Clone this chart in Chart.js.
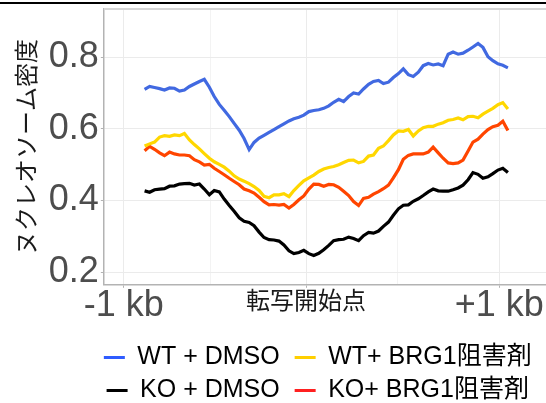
<!DOCTYPE html>
<html>
<head>
<meta charset="utf-8">
<script src="https://cdn.jsdelivr.net/npm/chart.js@4/dist/chart.umd.min.js"></script>
<style>
    html, body { margin: 0; padding: 0; background: #fff; overflow: hidden; }
    #wrap { position: relative; width: 546px; height: 403px; }
</style>
</head>
<body>
<div id="wrap"><canvas id="densityChart"></canvas></div>
<script>
// distance from TSS (bp) of each bin
const positions = [
    -889, -862, -836, -809, -783, -756, -730, -703, -677, -650,
    -624, -597, -571, -544, -518, -491, -465, -438, -412, -385,
    -359, -332, -306, -279, -253, -226, -200, -173, -147, -120,
    -94, -67, -41, -14, 12, 39, 65, 92, 118, 145,
    171, 198, 224, 251, 277, 304, 330, 357, 383, 410,
    436, 463, 489, 516, 542, 569, 595, 622, 648, 675,
    701, 728, 754, 781, 807, 834, 860, 887, 913, 940,
    966, 993, 1019, 1046
];

const wtDmso = [
    .710, .718, .715, .712, .708, .714, .713, .705, .708, .718,
    .725, .732, .738, .716, .690, .668, .652, .634, .615, .596,
    .573, .542, .562, .574, .582, .590, .598, .606, .614, .622,
    .628, .632, .638, .648, .651, .653, .657, .664, .674, .682,
    .676, .690, .700, .697, .711, .724, .732, .735, .726, .730,
    .743, .754, .767, .751, .746, .758, .776, .782, .778, .781,
    .776, .808, .814, .808, .811, .819, .828, .838, .827, .801,
    .790, .781, .777, .770
];

const wtInhib = [
    .552, .558, .563, .577, .581, .579, .583, .581, .587, .569,
    .556, .544, .531, .518, .508, .501, .493, .482, .469, .460,
    .454, .447, .439, .428, .412, .408, .416, .416, .419, .411,
    .428, .442, .455, .463, .471, .481, .488, .492, .495, .500,
    .506, .512, .513, .505, .509, .524, .527, .546, .552, .567,
    .583, .594, .593, .598, .580, .594, .603, .607, .607, .613,
    .617, .624, .626, .630, .625, .634, .635, .631, .641, .649,
    .657, .667, .673, .655
];

const koDmso = [
    .427, .423, .430, .432, .433, .440, .441, .446, .447, .448,
    .443, .446, .432, .416, .428, .424, .404, .386, .370, .352,
    .342, .339, .330, .312, .297, .291, .290, .287, .276, .260,
    .252, .255, .261, .252, .247, .253, .263, .275, .288, .291,
    .292, .298, .294, .288, .302, .311, .309, .315, .328, .340,
    .359, .377, .387, .388, .398, .405, .414, .424, .432, .427,
    .426, .426, .430, .435, .443, .458, .478, .473, .462, .466,
    .475, .485, .490, .478
];

const koInhib = [
    .539, .551, .543, .533, .525, .535, .530, .527, .527, .525,
    .514, .508, .499, .501, .490, .481, .472, .462, .453, .444,
    .432, .427, .421, .409, .397, .388, .389, .387, .389, .379,
    .389, .402, .413, .432, .446, .445, .440, .445, .444, .437,
    .426, .414, .397, .386, .406, .409, .418, .425, .433, .443,
    .463, .486, .515, .526, .530, .530, .530, .535, .549, .533,
    .518, .505, .503, .505, .513, .538, .563, .571, .585, .598,
    .606, .610, .621, .595
];

// axis breaks (major ones carry labels)
const xTicks = [-1000, -538, -29, 459, 1000];
const xTickLabels = { '-1000': '-1 kb', '-29': '転写開始点', '1000': '+1 kb' };
const yTicks = [0.2, 0.3, 0.4, 0.5, 0.6, 0.7, 0.8, 0.9];

const seriesNames = ['WT + DMSO', 'WT+ BRG1阻害剤', 'KO + DMSO', 'KO+ BRG1阻害剤'];

function toPoints(values) {
    return values.map((v, i) => ({ x: positions[i], y: v }));
}

function isMajorY(v) {
    return Math.round(v * 10) % 2 === 0;
}

// panel top border, the black rule at the very top, legend rows start at the panel's left edge
const framePlugin = {
    id: 'frame',
    afterLayout(chart) {
        const lg = chart.legend;
        if (lg && lg.lineWidths) {
            const pad = lg.options.labels.padding;
            const start = (lg.left + pad + lg.right - lg.lineWidths[0]) / 2;
            const d = chart.chartArea.left - start;
            lg.left += d;
            lg.right += d;
        }
    },
    afterDraw(chart) {
        const { ctx, chartArea: a, width } = chart;
        ctx.save();
        ctx.strokeStyle = '#d6d6d6';
        ctx.lineWidth = 2;
        ctx.beginPath();
        ctx.moveTo(a.left, a.top);
        ctx.lineTo(a.right, a.top);
        ctx.stroke();
        ctx.fillStyle = '#000';
        ctx.fillRect(0, 2, width, 2);
        ctx.restore();
    }
};

Chart.defaults.font.family = "'Liberation Sans', Arial, 'Noto Sans CJK JP', sans-serif";

const lineStyle = { borderWidth: 3.2, pointRadius: 0, tension: 0, fill: false };

new Chart(document.getElementById('densityChart'), {
    type: 'line',
    data: {
        datasets: [
            { label: seriesNames[0], data: toPoints(wtDmso), borderColor: '#4169e1', legendColor: '#2f5cff', ...lineStyle },
            { label: seriesNames[1], data: toPoints(wtInhib), borderColor: '#ffd700', legendColor: '#ffcf00', ...lineStyle },
            { label: seriesNames[2], data: toPoints(koDmso), borderColor: '#000000', legendColor: '#000000', ...lineStyle },
            { label: seriesNames[3], data: toPoints(koInhib), borderColor: '#ff4500', legendColor: '#ff2020', ...lineStyle }
        ]
    },
    options: {
        responsive: true,
        maintainAspectRatio: false,
        animation: false,
        layout: { padding: { top: 9, left: 10, right: 0, bottom: 0 } },
        plugins: {
            tooltip: { enabled: false },
            legend: {
                position: 'bottom',
                fullSize: true,
                maxHeight: 66,
                labels: {
                    font: { size: 25 },
                    color: '#000',
                    boxWidth: 21,
                    boxHeight: 3,
                    padding: 8,
                    generateLabels: function (chart) {
                        return chart.data.datasets.map((ds, i) => ({
                            // a trailing space widens the first column a little
                            text: i % 2 === 0 ? ds.label + ' ' : ds.label,
                            fillStyle: ds.legendColor,
                            strokeStyle: ds.legendColor,
                            lineWidth: 0,
                            hidden: false,
                            datasetIndex: i,
                            fontColor: '#000'
                        }));
                    }
                }
            }
        },
        scales: {
            x: {
                type: 'linear',
                min: -1106,
                max: 1249,
                afterBuildTicks: function (scale) {
                    scale.ticks = xTicks.map(v => ({ value: v }));
                },
                afterFit: function (scale) {
                    scale.paddingLeft = 0;
                    scale.paddingRight = 0;
                },
                grid: {
                    color: ctx => (ctx.tick && xTickLabels[ctx.tick.value] !== undefined) ? '#ebebeb' : '#f3f3f3',
                    tickColor: ctx => (ctx.tick && xTickLabels[ctx.tick.value] !== undefined) ? '#b3b3b3' : 'rgba(0,0,0,0)',
                    tickLength: 3
                },
                border: { color: '#b3b3b3', width: 1.5 },
                ticks: {
                    autoSkip: false,
                    maxRotation: 0,
                    padding: 0,
                    callback: function (value) {
                        return xTickLabels[value] !== undefined ? xTickLabels[value] : '';
                    },
                    font: ctx => (ctx.tick && ctx.tick.value === -29) ? { size: 24, lineHeight: 1.2 } : { size: 36, lineHeight: 1 },
                    color: ctx => (ctx.tick && ctx.tick.value === -29) ? '#1a1a1a' : '#4d4d4d'
                },
                title: {
                    display: true,
                    text: '',
                    font: { size: 1 },
                    padding: { top: 0, bottom: 12 }
                }
            },
            y: {
                min: 0.1651,
                max: 0.934,
                afterBuildTicks: function (scale) {
                    scale.ticks = yTicks.map(v => ({ value: v }));
                },
                afterFit: function (scale) {
                    scale.paddingTop = 0;
                    scale.paddingBottom = 0;
                },
                grid: {
                    color: ctx => (ctx.tick && isMajorY(ctx.tick.value)) ? '#ebebeb' : '#f3f3f3',
                    tickColor: ctx => (ctx.tick && isMajorY(ctx.tick.value)) ? '#b3b3b3' : 'rgba(0,0,0,0)',
                    tickLength: 3
                },
                border: { color: '#b3b3b3', width: 1.5 },
                ticks: {
                    padding: 2,
                    callback: function (value) {
                        return isMajorY(value) ? value.toFixed(1) : '';
                    },
                    font: ctx => (ctx.tick && isMajorY(ctx.tick.value)) ? { size: 36 } : { size: 1 },
                    color: '#4d4d4d'
                },
                title: {
                    display: true,
                    text: 'ヌクレオソーム密度',
                    font: { size: 24 },
                    color: '#1a1a1a',
                    padding: { top: 4, bottom: 4 }
                }
            }
        }
    },
    plugins: [framePlugin]
});
</script>
</body>
</html>
